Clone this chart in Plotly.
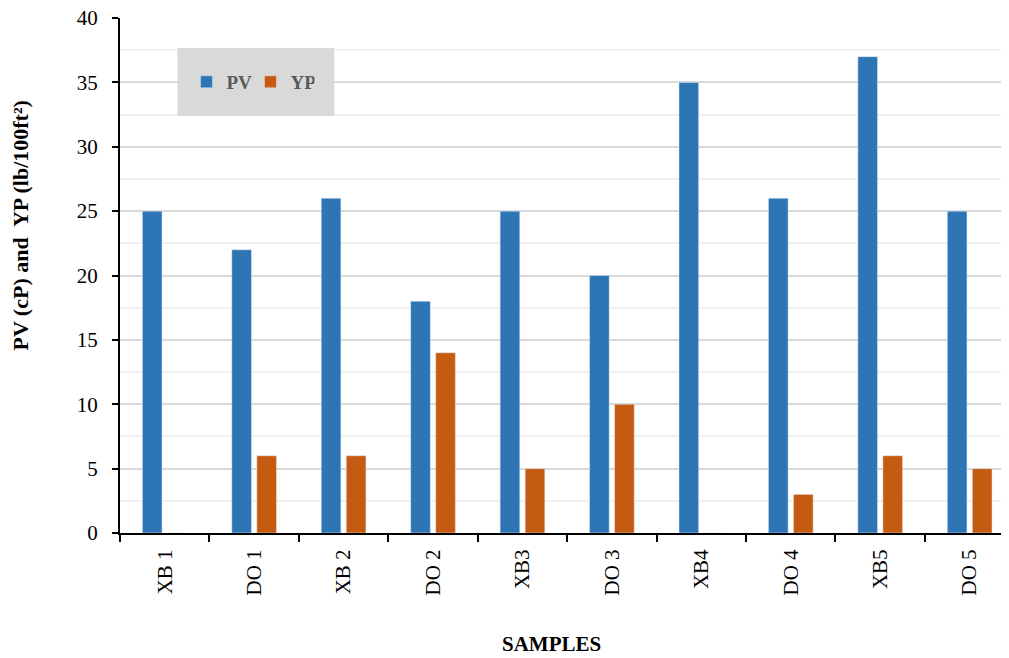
import plotly.graph_objects as go

samples = ["XB 1", "DO 1", "XB 2", "DO 2", "XB3", "DO 3", "XB4", "DO 4", "XB5", "DO 5"]
pv_values = [25, 22, 26, 18, 25, 20, 35, 26, 37, 25]
yp_values = [0, 6, 6, 14, 5, 10, 0, 3, 6, 5]

FONT = "Liberation Serif, Times New Roman, serif"
BLUE = "#2E75B6"
ORANGE = "#C55A11"

# the page puts the figure 8px in from the top-left corner
PLOT_LEFT, PLOT_TOP, PLOT_W, PLOT_H = 119.5, 18, 889.5, 515


def px_x(x):
    return (x - PLOT_LEFT) / PLOT_W


def px_y(y):
    return (PLOT_TOP + PLOT_H - y) / PLOT_H


fig = go.Figure()
fig.add_trace(
    go.Bar(
        x=samples,
        y=pv_values,
        name="PV",
        marker_color=BLUE,
        width=0.22,
        offset=-0.25,
    )
)
fig.add_trace(
    go.Bar(
        x=samples,
        y=yp_values,
        name="YP",
        marker_color=ORANGE,
        width=0.22,
        offset=0.03,
    )
)

# grey box behind the legend
fig.add_shape(
    type="rect",
    xref="paper",
    yref="paper",
    x0=px_x(177),
    x1=px_x(334),
    y0=px_y(116),
    y1=px_y(48),
    fillcolor="#d9d9d9",
    line_width=0,
    layer="above",
)

fig.add_annotation(
    text="<b>PV (cP) and  YP (lb/100ft²)</b>",
    xref="paper",
    yref="paper",
    x=px_x(19),
    y=px_y(226),
    xanchor="center",
    yanchor="middle",
    textangle=-90,
    showarrow=False,
    font=dict(family=FONT, size=22, color="black"),
)
fig.add_annotation(
    text="<b>SAMPLES</b>",
    xref="paper",
    yref="paper",
    x=px_x(551),
    y=px_y(644),
    xanchor="center",
    yanchor="middle",
    showarrow=False,
    font=dict(family=FONT, size=21, color="black"),
)

fig.update_layout(
    width=1001,
    height=650,
    margin=dict(l=PLOT_LEFT - 8, r=0, t=PLOT_TOP - 8, b=650 - (PLOT_TOP - 8) - PLOT_H),
    paper_bgcolor="white",
    plot_bgcolor="white",
    barmode="overlay",
    font=dict(family=FONT, size=21, color="black"),
    legend=dict(
        orientation="h",
        x=px_x(186),
        y=px_y(82),
        xanchor="left",
        yanchor="middle",
        bgcolor="rgba(0,0,0,0)",
        font=dict(family=FONT, size=19, color="#595959", weight="bold"),
        entrywidth=19,
        itemwidth=30,
    ),
    xaxis=dict(
        type="category",
        range=[-0.5, 9.44],
        tickson="boundaries",
        ticks="outside",
        ticklen=7,
        tickwidth=2,
        tickcolor="black",
        tickangle=-90,
        showline=True,
        linecolor="black",
        linewidth=2,
        showgrid=False,
        automargin=False,
        tickfont=dict(family=FONT, size=21, color="black"),
        ticklabelstandoff=6,
    ),
    yaxis=dict(
        range=[0, 40],
        tickvals=[0, 5, 10, 15, 20, 25, 30, 35, 40],
        ticks="outside",
        ticklen=6,
        tickwidth=2,
        tickcolor="black",
        showline=True,
        linecolor="black",
        linewidth=2,
        gridcolor="#d9d9d9",
        gridwidth=1.5,
        zeroline=False,
        automargin=False,
        minor=dict(dtick=2.5, showgrid=True, gridcolor="#f0f0f0", gridwidth=1.5),
        tickfont=dict(family=FONT, size=21, color="black"),
        ticklabelstandoff=10,
        ticklabeloverflow="allow",
    ),
)

fig.write_html("out.html")
